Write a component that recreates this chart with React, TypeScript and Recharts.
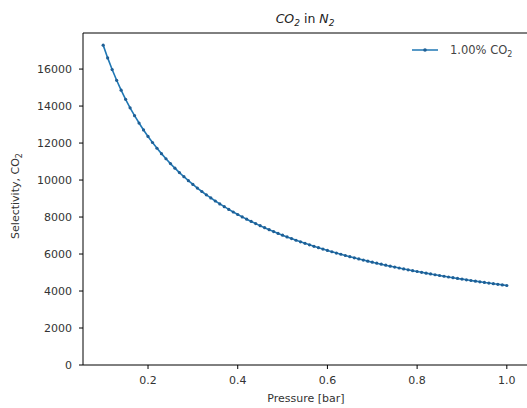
import React from 'react';
import { LineChart, Line, XAxis, YAxis, Label, ReferenceLine } from 'recharts';

const pressures = [
  0.10, 0.11, 0.12, 0.13, 0.14, 0.15, 0.16, 0.17, 0.18, 0.19,
  0.20, 0.21, 0.22, 0.23, 0.24, 0.25, 0.26, 0.27, 0.28, 0.29,
  0.30, 0.31, 0.32, 0.33, 0.34, 0.35, 0.36, 0.37, 0.38, 0.39,
  0.40, 0.41, 0.42, 0.43, 0.44, 0.45, 0.46, 0.47, 0.48, 0.49,
  0.50, 0.51, 0.52, 0.53, 0.54, 0.55, 0.56, 0.57, 0.58, 0.59,
  0.60, 0.61, 0.62, 0.63, 0.64, 0.65, 0.66, 0.67, 0.68, 0.69,
  0.70, 0.71, 0.72, 0.73, 0.74, 0.75, 0.76, 0.77, 0.78, 0.79,
  0.80, 0.81, 0.82, 0.83, 0.84, 0.85, 0.86, 0.87, 0.88, 0.89,
  0.90, 0.91, 0.92, 0.93, 0.94, 0.95, 0.96, 0.97, 0.98, 0.99,
  1.00,
];

const selectivity = [
  17294, 16604, 15973, 15394, 14860, 14366, 13907, 13480, 13082, 12709,
  12359, 12030, 11720, 11428, 11151, 10889, 10641, 10405, 10180, 9966,
  9762, 9567, 9381, 9202, 9031, 8867, 8710, 8559, 8413, 8273,
  8138, 8008, 7883, 7762, 7645, 7531, 7422, 7316, 7214, 7114,
  7018, 6924, 6834, 6746, 6660, 6577, 6496, 6417, 6341, 6266,
  6194, 6123, 6054, 5987, 5921, 5857, 5795, 5734, 5674, 5616,
  5559, 5504, 5449, 5396, 5344, 5294, 5244, 5195, 5147, 5100,
  5055, 5010, 4966, 4923, 4880, 4839, 4798, 4758, 4719, 4680,
  4643, 4605, 4569, 4533, 4498, 4463, 4429, 4396, 4363, 4331,
  4299,
];

const xTicks = [0.2, 0.4, 0.6, 0.8, 1.0];
const yTicks = [0, 2000, 4000, 6000, 8000, 10000, 12000, 14000, 16000];
const yMax = 17950;
const seriesName = '1.00% CO';

const data = pressures.map((p, i) => ({ p, s: selectivity[i] }));

const FONT = 'DejaVu Sans, sans-serif';
const COLOR = '#1f77b4';
const TEXT = '#333';

const Dot = (props: any) => {
  const { cx, cy } = props;
  if (cx == null || cy == null) return null;
  return <circle cx={cx} cy={cy} r={1.6} fill="#1f5f95" stroke="none" />;
};

const TopDecor = () => (
  <g>
    <text x={305} y={23} textAnchor="middle" fontFamily={FONT} fontSize={12.5} fill="#222">
      <tspan fontStyle="italic">CO</tspan>
      <tspan fontSize={9} dy={3} fontStyle="italic">2</tspan>
      <tspan dy={-3}> in </tspan>
      <tspan fontStyle="italic">N</tspan>
      <tspan fontSize={9} dy={3} fontStyle="italic">2</tspan>
    </text>
    <line x1={412} y1={50} x2={438} y2={50} stroke={COLOR} strokeWidth={1.5} />
    <circle cx={425} cy={50} r={1.8} fill="#1f5f95" />
    <text x={450} y={54} fontFamily={FONT} fontSize={11.5} fill="#444">
      {seriesName}
      <tspan fontSize={8} dy={2.5}>2</tspan>
    </text>
  </g>
);

export default function App() {
  return (
    <div style={{ position: 'absolute', left: 0, top: 0, width: 527, height: 408, background: '#fff' }}>
      <LineChart
        width={527}
        height={408}
        data={data}
        margin={{ top: 33, right: 0, bottom: 0, left: 0 }}
      >
        <XAxis
          dataKey="p"
          type="number"
          domain={[0.055, 1.045]}
          allowDataOverflow
          ticks={xTicks}
          tickFormatter={(v: number) => v.toFixed(1)}
          height={43}
          tickSize={4}
          tickMargin={7}
          stroke="#000"
          tick={{ fill: TEXT, fontSize: 11, fontFamily: FONT }}
        >
          <Label
            content={() => (
              <text x={306} y={402} textAnchor="middle" fontFamily={FONT} fontSize={11} fill={TEXT}>
                Pressure [bar]
              </text>
            )}
          />
        </XAxis>
        <YAxis
          type="number"
          domain={[0, yMax]}
          allowDataOverflow
          ticks={yTicks}
          width={83}
          tickSize={4}
          tickMargin={7}
          stroke="#000"
          tick={{ fill: TEXT, fontSize: 11, fontFamily: FONT }}
        >
          <Label
            content={() => (
              <text
                x={0}
                y={0}
                transform="translate(19, 196) rotate(-90)"
                textAnchor="middle"
                fontFamily={FONT}
                fontSize={11}
                fill={TEXT}
              >
                Selectivity, CO<tspan fontSize={8} dy={2.5}>2</tspan>
              </text>
            )}
          />
        </YAxis>
        <ReferenceLine
          y={yMax}
          stroke="#000"
          strokeWidth={1}
          ifOverflow="visible"
          label={<TopDecor />}
        />
        <Line
          type="linear"
          dataKey="s"
          name="1.00% CO₂"
          stroke={COLOR}
          strokeWidth={1.6}
          dot={<Dot />}
          activeDot={false}
          isAnimationActive={false}
        />
      </LineChart>
    </div>
  );
}
